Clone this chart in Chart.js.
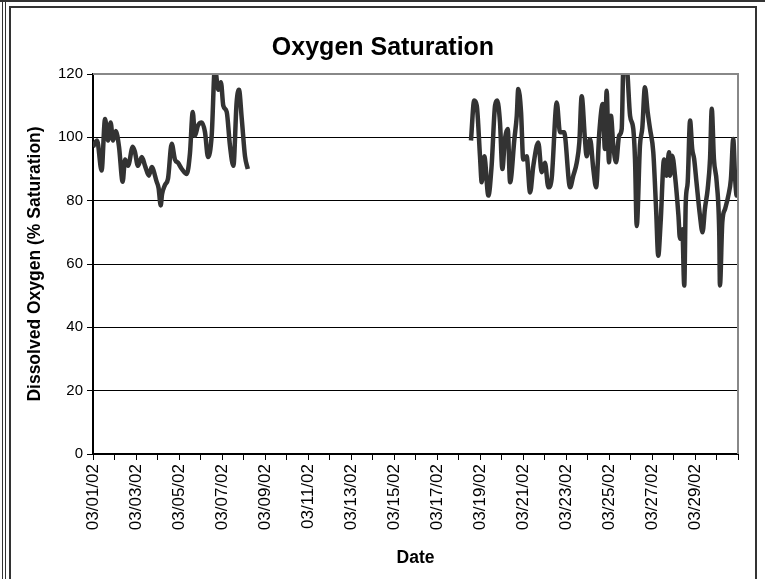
<!DOCTYPE html>
<html>
<head>
<meta charset="utf-8">
<script src="https://cdn.jsdelivr.net/npm/chart.js@4.4.0/dist/chart.umd.min.js"></script>
<style>
  html, body { margin: 0; padding: 0; background: #fff; }
  body { width: 765px; height: 579px; position: relative; overflow: hidden; }
  #topline { position: absolute; left: 0; top: 0; width: 765px; height: 0; border-top: 2px solid #333; }
  #leftline { position: absolute; left: 2px; top: 0; width: 2px; height: 579px; border-left: 1px solid #333; border-right: 1px solid #333; }
  #box { position: absolute; left: 9px; top: 6px; width: 744px; height: 575px;
         border-left: 2px solid #333; border-top: 2px solid #333; border-right: 2px solid #333; }
  canvas { display: block; }
</style>
</head>
<body>
<div id="topline"></div>
<div id="leftline"></div>
<div id="box"><canvas id="chart" width="744" height="573"></canvas></div>
<script>
// days since 03/01/02 00:00 and % saturation
var days1 = [0, 0.19, 0.40, 0.56, 0.70, 0.82, 0.93, 1.06, 1.21, 1.38, 1.49, 1.63, 1.85, 1.95,
  2.09, 2.27, 2.42, 2.60, 2.73, 2.96, 3.05, 3.15, 3.21, 3.35, 3.49, 3.66, 3.81, 3.95, 4.13,
  4.36, 4.51, 4.64, 4.74, 4.88, 5.06, 5.21, 5.35, 5.52, 5.67, 5.83, 5.95, 6.06, 6.22, 6.37,
  6.53, 6.68, 6.79, 6.92, 7.07, 7.20];
var oxy1 = [97, 99, 89.5, 105.8, 99, 104.7, 99, 102, 97, 86, 93, 91, 97, 95.4,
  91, 93.8, 91, 87.9, 90.6, 86, 84, 78.5, 82, 85, 87, 98, 93, 92, 90,
  88.4, 95, 108, 100.5, 103.7, 104.7, 101.6, 93.8, 100.5, 122, 115, 117.4, 110, 108, 97.4,
  91, 111, 115, 105.8, 94, 90];

var days2 = [17.58, 17.73, 17.85, 18.00, 18.08, 18.20, 18.39, 18.54, 18.70, 18.80, 18.93,
  19.04, 19.16, 19.29, 19.40, 19.60, 19.71, 19.78, 19.91, 20.01, 20.17, 20.33, 20.48, 20.71,
  20.87, 21.02, 21.18, 21.33, 21.57, 21.72, 21.91, 22.19, 22.34, 22.50, 22.62, 22.73, 22.88,
  22.96, 23.12, 23.27, 23.40, 23.55, 23.71, 23.81, 23.89, 24.00, 24.09, 24.20, 24.33, 24.47,
  24.59, 24.67, 24.82, 24.98, 25.13, 25.21, 25.29, 25.44, 25.55, 25.67, 25.80, 25.91, 26.06,
  26.19, 26.29, 26.40, 26.56, 26.68, 26.79, 26.84, 26.94, 27.07, 27.23, 27.30, 27.41, 27.50,
  27.57, 27.66, 27.77, 27.87, 27.96, 28.07, 28.23, 28.35, 28.46, 28.59, 28.70, 28.78, 28.88,
  29.01, 29.13, 29.16, 29.27, 29.40, 29.55, 29.67, 29.78, 29.86, 29.94, 30.00];
var oxy2 = [99, 111.6, 110, 94, 85.8, 94, 81.6, 91, 110, 111.6, 104.7,
  90, 99.5, 102.6, 85.8, 99.5, 106.8, 115.3, 107.9, 93, 94, 82.6, 91, 98.4,
  89, 92, 84.2, 86.8, 111, 101.6, 101.6, 84.2, 87.9, 92, 98.4, 113, 99.5,
  94, 99.5, 90, 84.2, 101.6, 110.5, 96.3, 114.7, 92.1, 106.8, 97.4, 92.1, 100.5,
  102.6, 122, 122, 106.8, 102.6, 93, 72, 97.4, 103, 115.8, 107.9, 102.6, 95.3,
  77.4, 62.6, 73, 93, 87.9, 95.3, 87.9, 94.2, 87.9, 75.3, 68, 71, 53.2,
  79.5, 85.8, 105.3, 96.3, 93.2, 85.8, 75.3, 70, 77.4, 83.7, 93.2, 109, 93.2,
  85.8, 69, 53.2, 73.2, 77.4, 81.6, 86.8, 99.5, 87.9, 81.6, 84.7];

var yTicks = [0, 20, 40, 60, 80, 100, 120];

function pad(n) { return (n < 10 ? "0" : "") + n; }

var points = [];
for (var i = 0; i < days1.length; i++) points.push({ x: days1[i], y: oxy1[i] });
points.push({ x: 12, y: null });
for (var j = 0; j < days2.length; j++) points.push({ x: days2[j], y: oxy2[j] });

var frame = {
  id: "frame",
  afterDatasetsDraw: function (chart) {
    var a = chart.chartArea, ctx = chart.ctx;
    ctx.save();
    ctx.strokeStyle = "#888";
    ctx.lineWidth = 2;
    ctx.beginPath();
    ctx.moveTo(a.left, a.top);
    ctx.lineTo(a.right, a.top);
    ctx.lineTo(a.right, a.bottom);
    ctx.stroke();
    ctx.restore();
  }
};

new Chart(document.getElementById("chart"), {
  type: "line",
  data: {
    datasets: [{
      data: points,
      borderColor: "#333333",
      borderWidth: 4.5,
      pointRadius: 0,
      cubicInterpolationMode: "monotone",
      spanGaps: false,
      clip: 0
    }]
  },
  options: {
    responsive: false,
    animation: false,
    events: [],
    layout: { padding: 0 },
    plugins: {
      legend: { display: false },
      tooltip: { enabled: false },
      title: {
        display: true,
        text: "Oxygen Saturation",
        color: "#000",
        font: { family: "Liberation Sans", size: 25, weight: "bold", lineHeight: 1.2 },
        padding: { top: 25, bottom: 11 }
      }
    },
    scales: {
      x: {
        type: "linear",
        min: 0,
        max: 30,
        afterFit: function (s) {
          s.height = 127;
          s.paddingLeft = 0;
          s.paddingRight = 17;
        },
        afterBuildTicks: function (s) {
          s.ticks = [];
          for (var d = 0; d <= 30; d++) s.ticks.push({ value: d });
        },
        ticks: {
          autoSkip: false,
          maxRotation: 90,
          minRotation: 90,
          color: "#000",
          padding: 4,
          font: { family: "Liberation Sans", size: 17 },
          callback: function (v) { return v % 2 === 0 && v < 30 ? "03/" + pad(v + 1) + "/02" : ""; }
        },
        grid: { drawOnChartArea: false, drawTicks: true, tickLength: 6, color: "#000" },
        border: { color: "#000", width: 2 },
        title: {
          display: true,
          text: "Date",
          color: "#000",
          font: { family: "Liberation Sans", size: 17.5, weight: "bold" },
          padding: { top: 0, bottom: 12 }
        }
      },
      y: {
        min: 0,
        max: 120,
        afterFit: function (s) { s.width = 82; },
        afterBuildTicks: function (s) { s.ticks = yTicks.map(function (v) { return { value: v }; }); },
        ticks: {
          color: "#000",
          padding: 4,
          font: { family: "Liberation Sans", size: 15 }
        },
        grid: {
          color: function (c) { return c.tick && c.tick.value === 120 ? "rgba(0,0,0,0)" : "#000"; },
          lineWidth: 1,
          tickLength: 6,
          tickColor: "#000"
        },
        border: { color: "#000", width: 2 },
        title: {
          display: true,
          text: "Dissolved Oxygen (% Saturation)",
          color: "#000",
          font: { family: "Liberation Sans", size: 17.5, weight: "bold" },
          padding: { top: 14, bottom: 0 }
        }
      }
    }
  },
  plugins: [frame]
});
</script>
</body>
</html>
